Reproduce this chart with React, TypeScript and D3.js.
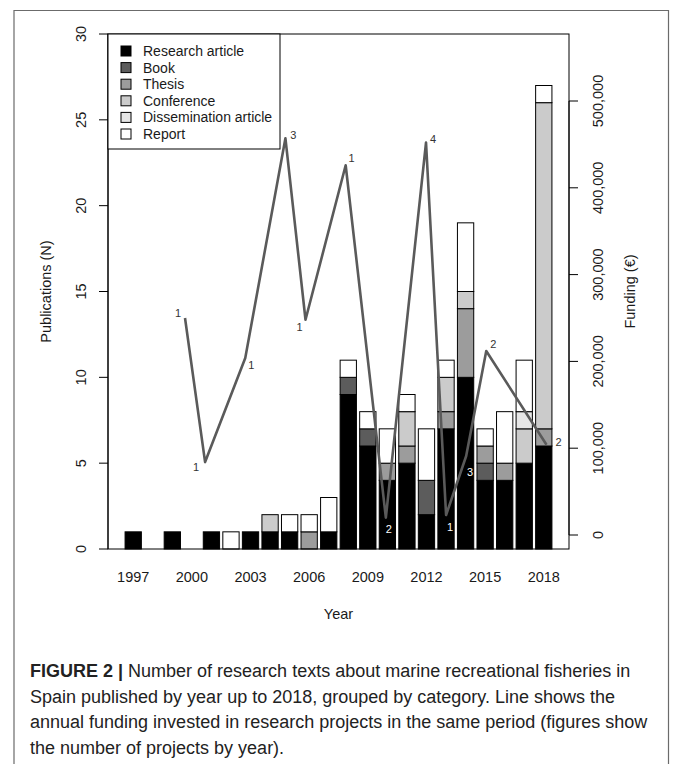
import * as d3 from 'd3'

// publications per year, stacked by category
const years = [1997, 1998, 1999, 2000, 2001, 2002, 2003, 2004, 2005, 2006, 2007,
  2008, 2009, 2010, 2011, 2012, 2013, 2014, 2015, 2016, 2017, 2018]
const researchArticle = [1, 0, 1, 0, 1, 0, 1, 1, 1, 0, 1, 9, 6, 4, 5, 2, 7, 10, 4, 4, 5, 6]
const book = [0, 0, 0, 0, 0, 0, 0, 0, 0, 0, 0, 1, 1, 0, 0, 2, 0, 0, 1, 0, 0, 0]
const thesis = [0, 0, 0, 0, 0, 0, 0, 0, 0, 1, 0, 0, 0, 1, 1, 0, 1, 4, 1, 1, 0, 1]
const conference = [0, 0, 0, 0, 0, 0, 0, 1, 0, 0, 0, 0, 0, 0, 2, 0, 2, 1, 0, 0, 2, 19]
const dissemination = [0, 0, 0, 0, 0, 0, 0, 0, 0, 0, 0, 0, 0, 0, 0, 0, 0, 0, 0, 0, 1, 0]
const report = [0, 0, 0, 0, 0, 1, 0, 0, 1, 1, 2, 1, 1, 2, 1, 3, 1, 4, 1, 3, 3, 1]

const categories = ['Research article', 'Book', 'Thesis', 'Conference', 'Dissemination article', 'Report']
const categoryColors = ['#000000', '#5c5c5c', '#9c9c9c', '#cbcbcb', '#e6e6e6', '#ffffff']
const series = [researchArticle, book, thesis, conference, dissemination, report]

// funding line (EUR) and number of projects
const fundYears = [2000, 2001, 2003, 2005, 2006, 2008, 2010, 2012, 2013, 2014, 2015, 2018]
const funding = [250000, 84000, 204000, 457000, 248000, 426000, 20000, 452000, 23000, 91000, 212000, 104000]
const projects = [1, 1, 1, 3, 1, 1, 2, 4, 1, 3, 2, 2]
// label placement around each vertex
const labelDx = [-7, -9, 6, 8, -6, 6, 3, 7, 4, 4, 7, 12]
const labelDy = [-5, 5, 7, -3, 7, -7, 11, -4, 12, 16, -7, -3]
const labelWhite = [false, false, false, false, false, false, true, false, true, true, false, false]

const leftTicks = [0, 5, 10, 15, 20, 25, 30]
const rightTicks = [0, 100000, 200000, 300000, 400000, 500000]
const yearLabels = [1997, 2000, 2003, 2006, 2009, 2012, 2015, 2018]

const captionLines = [
  'Number of research texts about marine recreational fisheries in',
  'Spain published by year up to 2018, grouped by category. Line shows the',
  'annual funding invested in research projects in the same period (figures show',
  'the number of projects by year).',
]

const W = 673, H = 764
const L = 108, R = 569, T = 34, B = 549
const font = '"Liberation Sans", Arial, sans-serif'
const ink = '#1a1a1a'

export default function App() {
  const xBar = d3.scaleLinear().domain([-0.848, 27.448]).range([L, R])
  const yLeft = d3.scaleLinear().domain([0, 30]).range([B, T])
  const xYear = d3.scaleLinear().domain([1996.165, 2019.12]).range([L, R])
  const yFund = d3.scaleLinear().domain([-16129, 577189]).range([B, T])
  const bw = xBar(1) - xBar(0)
  const barLeft = (i: number) => xBar(0.2 + 1.2 * i)

  const stacked = years.map((_, i) => {
    let acc = 0
    return series.map((s, k) => {
      const y0 = acc
      acc += s[i]
      return { k, y0, y1: acc }
    }).filter(d => d.y1 > d.y0)
  })

  const fundPts = fundYears.map((yr, i) => [xYear(yr), yFund(funding[i])] as [number, number])
  const line = d3.line()(fundPts) ?? ''
  const fmt = d3.format(',')

  return (
    <div style={{ position: 'absolute', left: 0, top: 0 }}>
      <svg width={W} height={H} style={{ display: 'block', background: '#fff' }} fontFamily={font}>
        <path d={`M14,${H} V10.5 H668.5 V${H}`} fill="none" stroke="#6b6b6b" strokeWidth={1.2} />

        {/* bars */}
        {stacked.map((segs, i) => segs.map(s => (
          <rect key={`${i}-${s.k}`} x={barLeft(i)} width={bw}
            y={yLeft(s.y1)} height={yLeft(s.y0) - yLeft(s.y1)}
            fill={categoryColors[s.k]} stroke="#000" strokeWidth={1} />
        )))}

        {/* funding line */}
        <path d={line} fill="none" stroke="#5a5a5a" strokeWidth={2.6} strokeLinejoin="round" />
        {fundPts.map((p, i) => (
          <text key={i} x={p[0] + labelDx[i]} y={p[1] + labelDy[i] + 4} fontSize={11}
            textAnchor="middle" fill={labelWhite[i] ? '#fff' : '#333'}>{projects[i]}</text>
        ))}

        {/* plot box */}
        <rect x={L} y={T} width={R - L} height={B - T} fill="none" stroke="#000" strokeWidth={1} />

        {/* left axis */}
        <line x1={L} x2={L} y1={yLeft(0)} y2={yLeft(30)} stroke="#000" />
        {leftTicks.map(t => (
          <g key={t}>
            <line x1={L - 9} x2={L} y1={yLeft(t)} y2={yLeft(t)} stroke="#000" />
            <text transform={`translate(85.5,${yLeft(t)}) rotate(-90)`} textAnchor="middle"
              fontSize={14.5} fill={ink}>{t}</text>
          </g>
        ))}
        <text transform={`translate(50.5,${(T + B) / 2}) rotate(-90)`} textAnchor="middle"
          fontSize={14.5} fill={ink}>Publications (N)</text>

        {/* right axis */}
        <line x1={R} x2={R} y1={yFund(0)} y2={yFund(500000)} stroke="#000" />
        {rightTicks.map(t => (
          <g key={t}>
            <line x1={R} x2={R + 9} y1={yFund(t)} y2={yFund(t)} stroke="#000" />
            <text transform={`translate(603,${yFund(t)}) rotate(-90)`} textAnchor="middle"
              fontSize={14.5} fill={ink}>{fmt(t)}</text>
          </g>
        ))}
        <text transform={`translate(635,${(T + B) / 2}) rotate(-90)`} textAnchor="middle"
          fontSize={14.5} fill={ink}>Funding (€)</text>

        {/* x labels */}
        {yearLabels.map(yr => (
          <text key={yr} x={barLeft(years.indexOf(yr)) + bw / 2} y={582} textAnchor="middle"
            fontSize={14.5} fill={ink}>{yr}</text>
        ))}
        <text x={(L + R) / 2} y={619} textAnchor="middle" fontSize={14.5} fill={ink}>Year</text>

        {/* legend */}
        <rect x={L} y={T} width={172} height={115} fill="#fff" stroke="#000" />
        {categories.map((c, k) => (
          <g key={c} transform={`translate(0,${51 + k * 16.6})`}>
            <rect x={121} y={-5} width={10} height={10} fill={categoryColors[k]} stroke="#000" />
            <text x={143} y={5} fontSize={14} fill={ink}>{c}</text>
          </g>
        ))}

        {/* caption */}
        {captionLines.map((ln, i) => (
          <text key={i} x={30} y={677 + i * 25.5} fontSize={18} fill="#222"
            fontFamily={'"Liberation Sans Narrow", "Liberation Sans", Arial, sans-serif'}>
            {i === 0 && <tspan fontWeight="bold">FIGURE 2 | </tspan>}
            {ln}
          </text>
        ))}
      </svg>
    </div>
  )
}
